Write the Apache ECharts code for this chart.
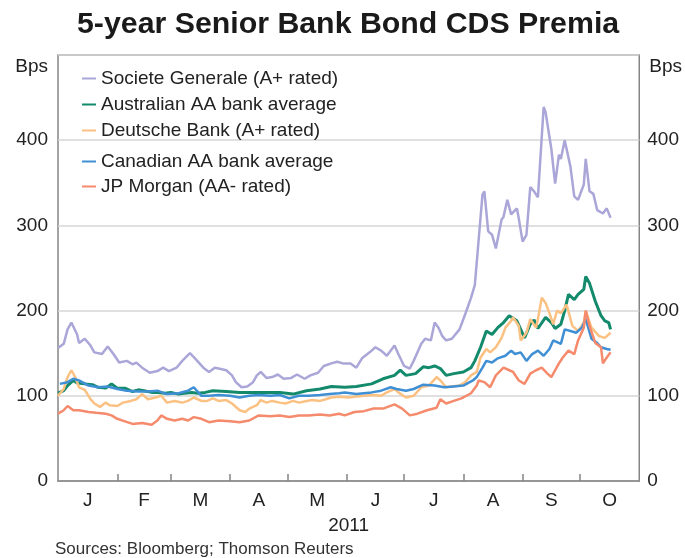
<!DOCTYPE html>
<html>
<head>
<meta charset="utf-8">
<script src="https://cdn.jsdelivr.net/npm/echarts@6/dist/echarts.min.js"></script>
<style>
html,body{margin:0;padding:0;background:#fff;}
#chart{width:685px;height:558px;}
</style>
</head>
<body>
<div id="chart"></div>
<script>
// Day of 2011 (0 = 1 Jan) and value in basis points
const socGen = [[0,156],[3,161],[5,178],[7,186],[10,172],[11,162],[14,167],[17,159],[19,151],[23,149],[26,158],[29,149],[32,139],[36,141],[39,137],[41,139],[44,133],[48,127],[52,129],[55,133],[58,129],[62,133],[65,141],[69,150],[72,143],[76,133],[79,128],[82,133],[84,132],[88,130],[91,124],[93,116],[96,110],[99,111],[102,116],[104,124],[106,128],[109,121],[112,122],[115,125],[118,120],[122,121],[125,125],[129,120],[132,124],[136,127],[139,135],[143,138],[146,140],[149,138],[153,138],[156,133],[159,144],[163,151],[166,157],[169,153],[172,147],[176,159],[178,149],[181,135],[184,132],[186,141],[190,161],[192,167],[195,165],[197,186],[199,180],[201,170],[203,165],[206,167],[210,178],[213,196],[216,215],[218,230],[222,336],[223,340],[225,293],[227,289],[229,273],[232,307],[233,310],[235,330],[237,313],[240,320],[241,308],[243,281],[245,289],[247,345],[249,340],[251,333],[254,439],[255,433],[258,390],[260,349],[262,383],[263,378],[265,400],[268,369],[270,334],[272,330],[275,348],[276,378],[278,340],[280,337],[282,318],[285,314],[287,320],[289,309]];
const ausAvg = [[0,103],[3,106],[5,112],[8,118],[10,115],[14,114],[18,113],[21,110],[25,109],[28,114],[31,109],[35,109],[39,105],[42,107],[45,106],[49,104],[52,104],[56,103],[59,104],[63,102],[66,103],[70,104],[73,103],[77,104],[81,106],[88,105],[95,104],[102,104],[109,104],[116,104],[123,102],[130,106],[137,108],[143,111],[150,110],[156,111],[164,114],[170,120],[176,124],[179,130],[182,124],[187,126],[191,134],[194,133],[197,135],[200,132],[203,124],[207,126],[212,128],[216,133],[218,141],[221,157],[224,176],[227,172],[230,180],[233,186],[236,194],[237,192],[240,188],[244,168],[247,184],[249,189],[251,179],[255,192],[258,186],[260,179],[263,184],[265,200],[267,219],[270,213],[272,219],[275,225],[276,240],[278,232],[281,211],[284,194],[286,188],[288,186],[289,178]];
const deutsche = [[0,100],[3,108],[5,122],[7,130],[9,122],[11,110],[14,107],[17,96],[19,91],[22,87],[25,92],[27,89],[31,88],[34,92],[38,94],[41,96],[44,102],[47,96],[51,98],[54,100],[57,92],[61,94],[65,92],[68,94],[71,98],[75,94],[78,94],[81,97],[84,94],[88,95],[91,91],[95,83],[98,81],[100,85],[104,89],[106,95],[109,92],[112,94],[116,92],[119,91],[123,94],[126,92],[130,94],[133,95],[137,94],[140,96],[143,98],[147,99],[152,98],[155,99],[160,100],[165,101],[169,100],[172,104],[176,108],[178,104],[182,98],[186,100],[190,110],[194,112],[198,122],[200,118],[203,110],[206,111],[210,112],[213,116],[216,124],[219,128],[221,145],[224,155],[226,151],[229,157],[232,168],[234,180],[237,188],[238,192],[241,182],[242,165],[245,174],[247,190],[250,180],[251,190],[253,215],[255,209],[257,197],[259,184],[261,200],[263,197],[266,207],[269,182],[272,176],[275,186],[276,200],[279,180],[283,170],[286,168],[289,174]];
const canAvg = [[1,114],[5,116],[8,120],[11,118],[16,112],[21,110],[26,111],[31,108],[36,106],[42,105],[47,105],[52,106],[57,102],[63,103],[68,106],[71,110],[75,100],[79,100],[84,101],[90,100],[95,98],[100,100],[105,101],[111,100],[116,101],[121,97],[126,100],[131,100],[137,101],[142,102],[147,103],[150,104],[156,102],[164,104],[169,106],[174,110],[177,108],[182,106],[186,108],[191,113],[197,112],[202,110],[207,111],[212,112],[217,118],[219,122],[222,133],[224,141],[227,139],[230,144],[234,147],[237,153],[239,149],[242,151],[245,141],[248,149],[251,153],[254,147],[257,155],[259,165],[263,161],[265,178],[268,176],[271,174],[274,180],[276,190],[279,167],[282,162],[284,157],[287,155],[289,154]];
const jpMorgan = [[0,79],[3,83],[5,88],[8,83],[11,83],[16,81],[20,80],[25,79],[28,77],[31,73],[35,70],[39,67],[44,68],[49,66],[52,71],[54,77],[57,73],[61,71],[65,73],[68,71],[71,75],[75,73],[79,69],[84,71],[90,70],[95,69],[100,71],[105,77],[111,76],[116,77],[121,75],[126,77],[131,77],[137,78],[142,77],[147,79],[150,77],[155,81],[160,82],[165,85],[170,85],[176,90],[180,85],[184,77],[188,79],[193,83],[198,86],[200,96],[203,91],[207,94],[211,97],[216,103],[219,112],[220,118],[223,116],[226,110],[229,124],[233,133],[236,130],[238,128],[241,118],[244,114],[247,126],[250,130],[253,133],[256,126],[258,122],[262,138],[264,145],[267,153],[270,149],[272,165],[275,180],[276,200],[278,182],[281,162],[284,157],[285,138],[287,145],[289,151]];

const seriesNames = ['Societe Generale (A+ rated)','Australian AA bank average','Deutsche Bank (A+ rated)','Canadian AA bank average','JP Morgan (AA- rated)'];
const monthStarts = [0,31,59,90,120,151,181,212,243,273,304];
const monthLabels = ['J','F','M','A','M','J','J','A','S','O'];
const yTicks = [0,100,200,300,400,500];

const monthMids = monthLabels.map((m,i)=> (monthStarts[i]+monthStarts[i+1])/2);
const FONT = "'Liberation Sans', Arial, sans-serif";
const colors = ['#aaa6d8','#138a6c','#fbc182','#3f8fd5','#f58b6c'];
const dataSets = [socGen, ausAvg, deutsche, canAvg, jpMorgan];

const chart = echarts.init(document.getElementById('chart'));
const yAxisBase = (pos) => ({
  type:'value', min:yTicks[0], max:yTicks[yTicks.length-1], interval:100, position:pos,
  name:'Bps', nameLocation:'end', nameGap:-12,
  nameTextStyle:{fontFamily:FONT,fontSize:19,color:'#222',align: pos==='left'?'right':'left',verticalAlign:'middle',
    padding: pos==='left'?[0,10,0,0]:[0,0,0,10]},
  axisLine:{show:false}, axisTick:{show:false},
  axisLabel:{fontFamily:FONT,fontSize:19,color:'#222',margin:pos==='left'?10:8,
    formatter:(v)=> v===500?'':String(v)},
  splitLine:{show: pos==='left', lineStyle:{color:'#d6d6d6',width:1.5}}
});
chart.setOption({
  animation:false,
  title:{text:'5-year Senior Bank Bond CDS Premia',left:72,top:5,
    textStyle:{fontFamily:FONT,fontSize:30.3,fontWeight:'bold',color:'#1a1a1a'}},
  grid:{left:58,right:44,top:55,bottom:77,show:true,borderColor:'#858585',borderWidth:1.5},
  legend:[
    {data:seriesNames.slice(0,3),orient:'vertical',left:77,top:64,itemWidth:14,itemHeight:2,itemGap:7,icon:'rect',
     textStyle:{fontFamily:FONT,fontSize:19,color:'#222'}},
    {data:seriesNames.slice(3),orient:'vertical',left:77,top:147,itemWidth:14,itemHeight:2,itemGap:6,icon:'rect',
     textStyle:{fontFamily:FONT,fontSize:19,color:'#222'}}
  ],
  xAxis:{type:'value',min:0,max:304,
    name:'2011',nameLocation:'middle',nameGap:35,
    nameTextStyle:{fontFamily:FONT,fontSize:19,color:'#222'},
    axisLine:{show:true,lineStyle:{color:'#858585',width:1.5}},
    axisTick:{show:true,inside:true,length:7,customValues:monthStarts.slice(1,-1),lineStyle:{color:'#858585',width:1.5}},
    axisLabel:{fontFamily:FONT,fontSize:19,color:'#222',margin:10,customValues:monthMids,
      formatter:(v)=>{const i=monthMids.indexOf(v);return i>=0?monthLabels[i]:'';}},
    splitLine:{show:false}},
  yAxis:[yAxisBase('left'), yAxisBase('right')],
  graphic:[{type:'text',left:55,top:541,style:{text:'Sources: Bloomberg; Thomson Reuters',font:"17px 'Liberation Sans', Arial, sans-serif",fill:'#333'}}],
  series: seriesNames.map((n,i)=>({
    name:n,type:'line',data:dataSets[i],showSymbol:false,symbol:'none',
    lineStyle:{color:colors[i],width: i===1?3:2.5},itemStyle:{color:colors[i]},
    z: 2+i
  }))
});
</script>
</body>
</html>
